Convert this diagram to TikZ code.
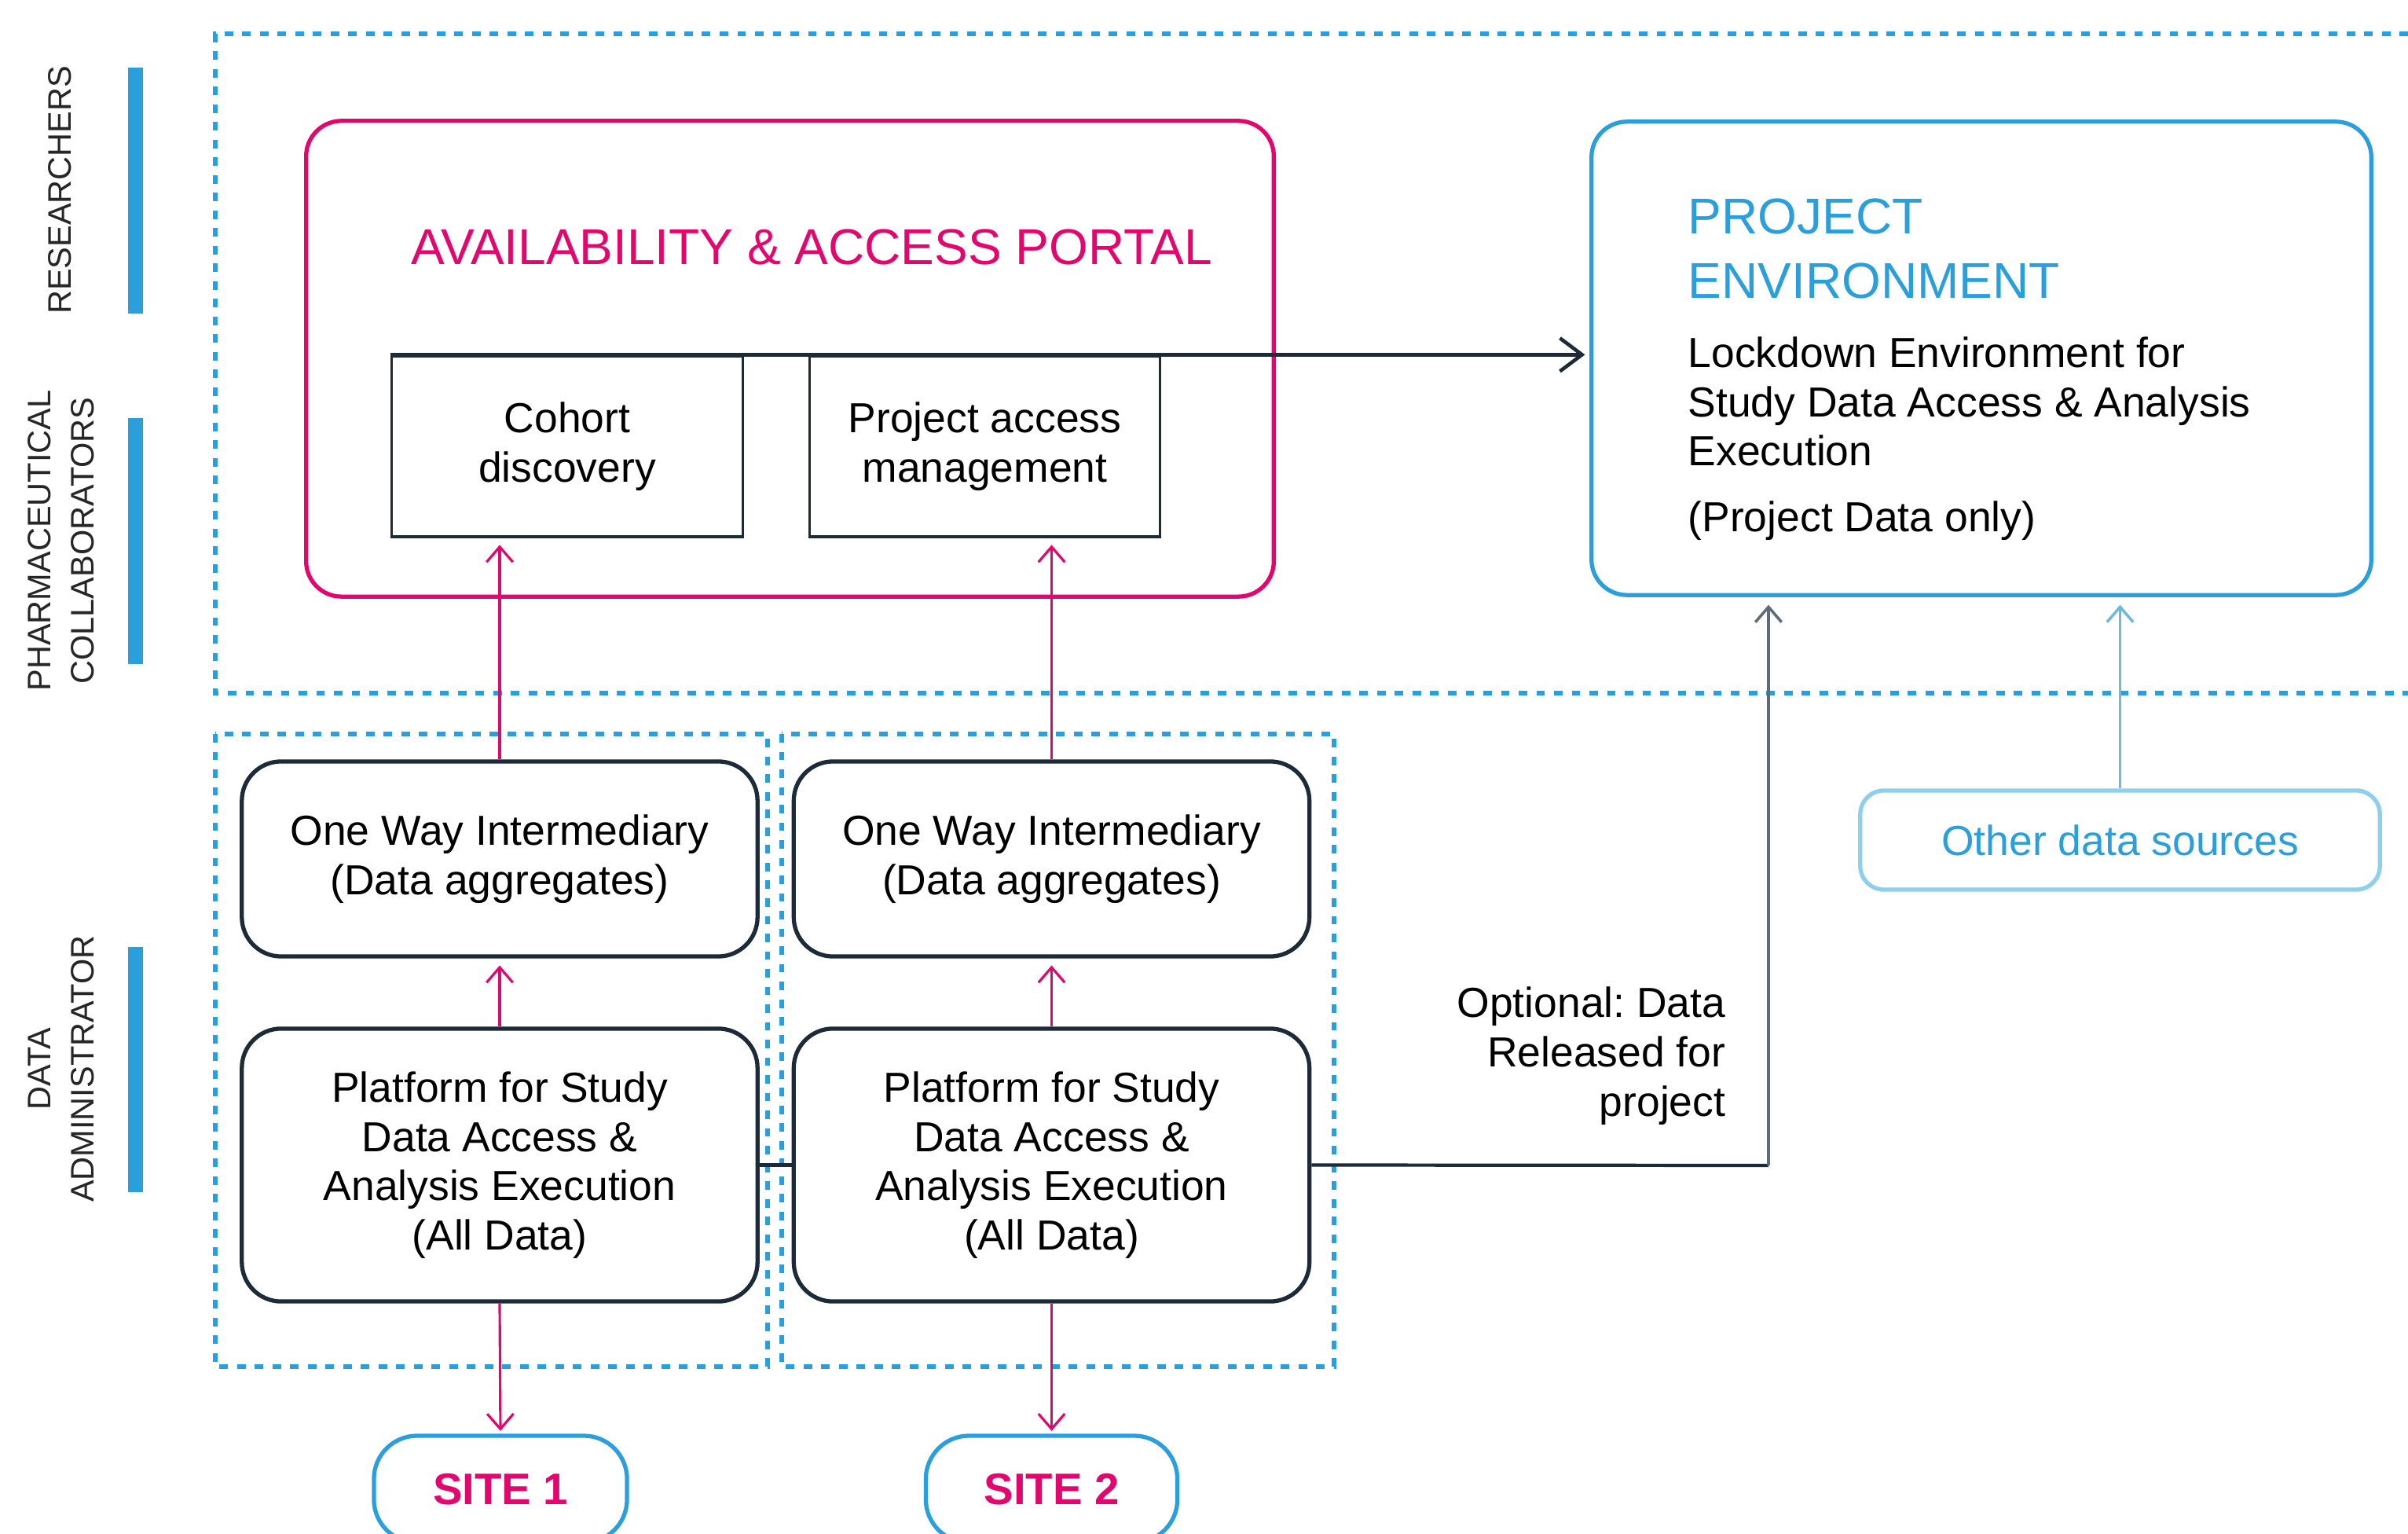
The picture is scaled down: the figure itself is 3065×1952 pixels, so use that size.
\documentclass[tikz,border=0pt]{standalone}
\usepackage{fontspec}
\setmainfont{Liberation Sans}
\usetikzlibrary{arrows.meta,positioning}
\definecolor{portalpink}{HTML}{E2066F}
\definecolor{envblue}{HTML}{2A9FDB}
\definecolor{navy}{HTML}{1D2A38}
\definecolor{slate}{HTML}{5E6B78}
\definecolor{paleblue}{HTML}{8FCFEE}
\definecolor{skyblue}{HTML}{6CB9E3}
\newcommand{\boxtext}{\fontsize{15.2}{17.8}\selectfont}
\newcommand{\headtext}{\fontsize{18.2}{23.6}\selectfont}
\newcommand{\roletext}{\fontsize{11.8}{15.6}\selectfont}
\frenchspacing

\begin{document}
\begin{tikzpicture}[x=0.01cm, y=-0.01cm,
    zone/.style={envblue, line width=1.6pt, dash pattern=on 3.1pt off 3.3pt},
    role/.style={rotate=90, align=center, font=\roletext, text=black!85},
    bigbox/.style={line width=1.5pt, rounded corners=0.45cm, inner sep=0pt},
    featurebox/.style={draw=navy, line width=0.9pt, minimum width=4.46cm, minimum height=2.3cm, inner sep=0pt, align=center, font=\boxtext},
    darkbox/.style={draw=navy, line width=1.5pt, rounded corners=0.5cm, minimum width=6.56cm, inner sep=0pt, align=center, font=\boxtext},
    sitebox/.style={draw=envblue, fill=white, line width=1.5pt, rounded corners=0.55cm, minimum height=1.36cm, inner sep=0pt, font=\fontsize{16}{19}\selectfont\bfseries, text=portalpink},
    pinkarrow/.style={portalpink, line width=0.9pt, -{Straight Barb[length=5.5pt, width=9.5pt]}},
    darkarrow/.style={navy, line width=1.3pt, -{Straight Barb[length=8pt, width=12pt]}},
    thinarrow/.style={line width=1pt, -{Straight Barb[length=5.5pt, width=9.5pt]}}]
    \path[fill=white, use as bounding box] (0,0) rectangle (3065,1952);

    % roles on the left
    \fill[envblue] (163,86) rectangle (182,399);
    \fill[envblue] (163,532) rectangle (182,845);
    \fill[envblue] (163,1205) rectangle (182,1517);
    \node[role] (researchers) at (76,242) {RESEARCHERS};
    \node[role] (pharma) at (78,688) {PHARMACEUTICAL\\COLLABORATORS};
    \node[role] (dataadmin) at (78,1360) {DATA\\ADMINISTRATOR};

    % dashed zones
    \draw[zone] (3065,43) -- (274,43) -- (274,882) -- (3065,882);
    \draw[zone] (274,934) rectangle (977,1739);
    \draw[zone] (995,934) rectangle (1698,1739);

    % portal
    \node[bigbox, draw=portalpink, minimum width=12.31cm, minimum height=6.05cm] (portal) at (1005.5,456.5) {};
    \node[anchor=base, font=\headtext, text=portalpink, inner sep=0pt] (portaltitle) at (1033,337) {AVAILABILITY \& ACCESS PORTAL};
    \node[featurebox] (cohort) at (722,568) {Cohort\\discovery};
    \node[featurebox] (pam) at (1253.5,568) {Project access\\management};

    % project environment
    \node[bigbox, draw=envblue, minimum width=9.92cm, minimum height=6.02cm] (env) at (2522,456) {};
    \node[anchor=base west, align=left, font=\headtext, text=envblue, inner sep=0pt] (envtitle) at (2148,380) {PROJECT\\ENVIRONMENT};
    \node[anchor=base west, align=left, font=\boxtext, inner sep=0pt] (envbody) at (2148,593) {Lockdown Environment for\\Study Data Access \& Analysis\\Execution};
    \node[anchor=base west, font=\boxtext, inner sep=0pt] (envnote) at (2148,677) {(Project Data only)};
    \node[draw=paleblue, line width=1.5pt, rounded corners=0.3cm, minimum width=6.61cm, minimum height=1.26cm, font=\boxtext, text=envblue] (other) at (2698.5,1069) {Other data sources};

    % sites
    \node[darkbox, minimum height=2.48cm] (owiA) at (636,1093) {One Way Intermediary\\(Data aggregates)};
    \node[darkbox, minimum height=2.48cm] (owiB) at (1338.5,1093) {One Way Intermediary\\(Data aggregates)};
    \node[darkbox, minimum height=3.47cm] (platA) at (636,1482.5) {Platform for Study\\Data Access \&\\Analysis Execution\\(All Data)};
    \node[darkbox, minimum height=3.47cm] (platB) at (1338.5,1482.5) {Platform for Study\\Data Access \&\\Analysis Execution\\(All Data)};
    \node[sitebox, minimum width=3.22cm] (siteA) at (637,1895) {SITE 1};
    \node[sitebox, minimum width=3.2cm] (siteB) at (1338.5,1895) {SITE 2};
    \node[anchor=base east, align=right, font=\boxtext, inner sep=0pt] (optional) at (2197,1420) {Optional: Data\\Released for\\project};

    % connectors
    \draw[darkarrow, shorten >=1.6pt] (cohort.north west) -- (cohort.north west -| env.west);
    \draw[pinkarrow, shorten >=2.5pt] (owiA.north) -- (owiA.north |- cohort.south);
    \draw[pinkarrow, shorten >=2.5pt] (owiB.north) -- (owiB.north |- pam.south);
    \draw[pinkarrow, shorten >=2.5pt] (platA.north) -- (owiA.south);
    \draw[pinkarrow, shorten >=2.5pt] (platB.north) -- (owiB.south);
    \draw[pinkarrow, shorten >=1pt] (platA.south) -- (siteA.north);
    \draw[pinkarrow, shorten >=1pt] (platB.south) -- (siteB.north);
    \draw[navy, line width=1.2pt] (platA.east) -- (platB.west);
    \coordinate (bend) at (2251,1483);
    \draw[navy, line width=1.2pt] (platB.east) -- (bend);
    \draw[thinarrow, slate, shorten >=2.8pt] (bend) -- (bend |- env.south);
    \draw[thinarrow, skyblue, shorten >=2.8pt] (other.north) -- (other.north |- env.south);
\end{tikzpicture}
\end{document}
